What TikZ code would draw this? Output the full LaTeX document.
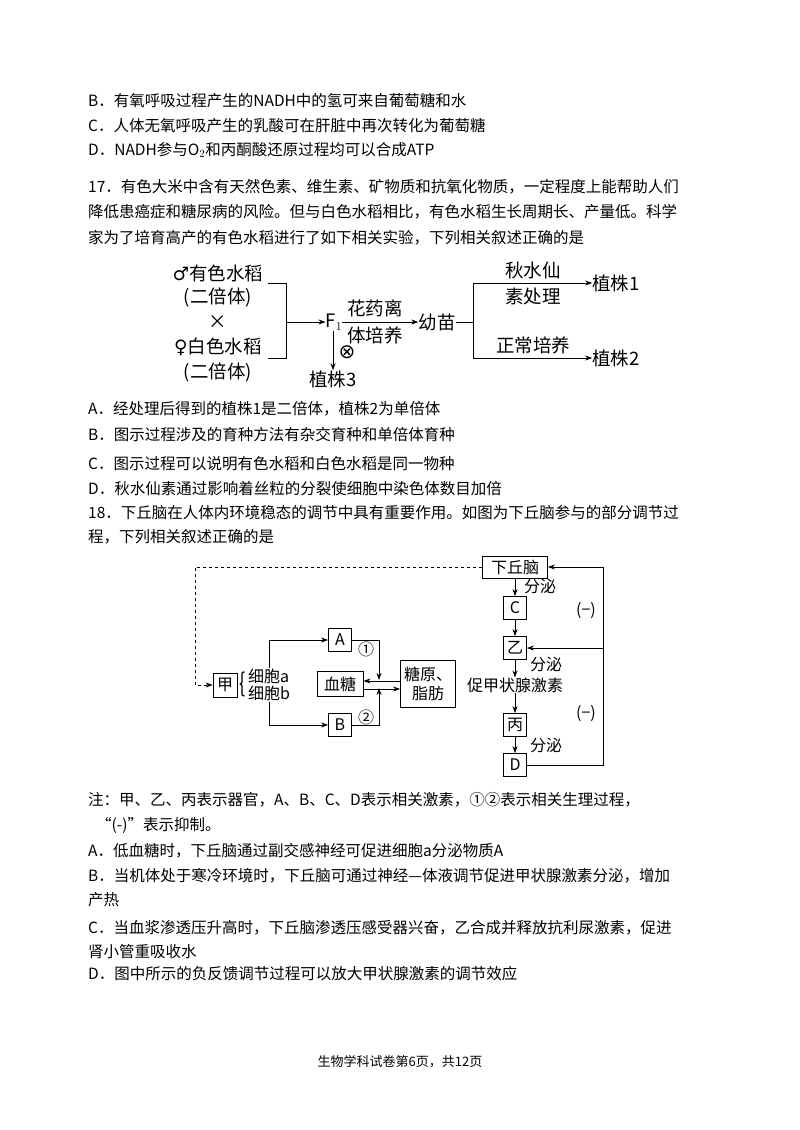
\documentclass[tikz,border=0pt]{standalone}
\usepackage{fontspec}
\setmainfont{Noto Sans CJK SC}
\newfontfamily\dejavu{DejaVu Sans}
\usetikzlibrary{arrows.meta}
\begin{document}
\begin{tikzpicture}[x=1pt,y=-1pt,
  txt/.style={anchor=west,inner sep=0,font=\fontsize{15.5}{16}\selectfont},
  lbl/.style={inner sep=0,font=\fontsize{18.5}{19}\selectfont},
  sl/.style={inner sep=0,font=\fontsize{16}{17}\selectfont},
  bx/.style={draw,line width=0.8pt,inner sep=0,font=\fontsize{16}{17}\selectfont},
  ar/.style={-{Stealth[length=7pt,width=5pt]},line width=0.8pt},
  ln/.style={line width=0.8pt}]
\useasboundingbox[fill=white] (0,0) rectangle (800,1130);
% text lines
\node[txt] (t1) at (88,101) {B．有氧呼吸过程产生的NADH中的氢可来自葡萄糖和水};
\node[txt] (t2) at (88,126) {C．人体无氧呼吸产生的乳酸可在肝脏中再次转化为葡萄糖};
\node[txt] (t3) at (88,150) {D．NADH参与O$_2$和丙酮酸还原过程均可以合成ATP};
\node[txt] (t4) at (88,187) {17．有色大米中含有天然色素、维生素、矿物质和抗氧化物质，一定程度上能帮助人们};
\node[txt] (t5) at (88,212) {降低患癌症和糖尿病的风险。但与白色水稻相比，有色水稻生长周期长、产量低。科学};
\node[txt] (t6) at (88,238) {家为了培育高产的有色水稻进行了如下相关实验，下列相关叙述正确的是};
\node[txt] (t7) at (88,409) {A．经处理后得到的植株1是二倍体，植株2为单倍体};
\node[txt] (t8) at (88,435) {B．图示过程涉及的育种方法有杂交育种和单倍体育种};
\node[txt] (t9) at (88,464) {C．图示过程可以说明有色水稻和白色水稻是同一物种};
\node[txt] (t10) at (88,489) {D．秋水仙素通过影响着丝粒的分裂使细胞中染色体数目加倍};
\node[txt] (t11) at (88,513) {18．下丘脑在人体内环境稳态的调节中具有重要作用。如图为下丘脑参与的部分调节过};
\node[txt] (t12) at (88,537) {程，下列相关叙述正确的是};
\node[txt] (t13) at (88,800) {注：甲、乙、丙表示器官，A、B、C、D表示相关激素，①②表示相关生理过程，};
\node[txt] (t14) at (96,825) {“(-)”表示抑制。};
\node[txt] (t15) at (88,851) {A．低血糖时，下丘脑通过副交感神经可促进细胞a分泌物质A};
\node[txt] (t16) at (88,876) {B．当机体处于寒冷环境时，下丘脑可通过神经—体液调节促进甲状腺激素分泌，增加};
\node[txt] (t17) at (88,900) {产热};
\node[txt] (t18) at (88,928) {C．当血浆渗透压升高时，下丘脑渗透压感受器兴奋，乙合成并释放抗利尿激素，促进};
\node[txt] (t19) at (88,952) {肾小管重吸收水};
\node[txt] (t20) at (88,974) {D．图中所示的负反馈调节过程可以放大甲状腺激素的调节效应};
\node[inner sep=0,font=\fontsize{13}{14}\selectfont] (ft) at (400,1062) {生物学科试卷第6页，共12页};
% diagram 1
\node[lbl] (p1) at (218,273) {{\dejavu ♂}有色水稻};
\node[lbl] (p2) at (218,297) {(二倍体)};
\node[lbl] (px) at (218,322) {×};
\node[lbl] (p3) at (218,347) {{\dejavu ♀}白色水稻};
\node[lbl] (p4) at (218,372) {(二倍体)};
\node[lbl] (f1) at (334,322) {F$_1$};
\node[lbl] (ym) at (437,322) {幼苗};
\node[lbl] (z1) at (616,283) {植株1};
\node[lbl] (z2) at (616,358) {植株2};
\node[lbl] (z3) at (333,379) {植株3};
\node[lbl] at (375,308) {花药离};
\node[lbl] at (375,335) {体培养};
\node[lbl] at (533,270) {秋水仙};
\node[lbl] at (533,296) {素处理};
\node[lbl] at (533,345) {正常培养};
\node[inner sep=0,font=\fontsize{20}{20}\selectfont] (ot) at (347,352) {\dejavu ⊗};
\coordinate (bt) at (286,283); \coordinate (bb) at (286,358);
\draw[ln] (268,283) -- (bt) -- (bb) -- (268,358);
\draw[ar] (286,322) -- (f1.west);
\draw[ar] (f1.east) -- (ym.west);
\draw[ln] (ym.east) -- (473,322);
\draw[ln] (473,283) -- (473,358);
\draw[ar] (473,283) -- (z1.west);
\draw[ar] (473,358) -- (z2.west);
\draw[ar] (333,331) -- (z3.north);
% diagram 2
\node[bx,minimum width=65pt,minimum height=22pt] (xq) at (515,567) {下丘脑};
\node[bx,minimum size=23pt] (C) at (515,608) {C};
\node[bx,minimum size=23pt] (Y) at (515,648) {乙};
\node[sl] (cj) at (515,685) {促甲状腺激素};
\node[bx,minimum size=23pt] (B3) at (515,725) {丙};
\node[bx,minimum size=23pt] (D) at (515,765) {D};
\node[sl] at (540,586) {分泌};
\node[sl] at (546,664) {分泌};
\node[sl] at (546,745) {分泌};
\node[sl] at (586,611) {(−)};
\node[sl] at (586,714) {(−)};
\draw[ar] (xq) -- (C);
\draw[ar] (C) -- (Y);
\draw[ar] (Y) -- (cj);
\draw[ar] (cj) -- (B3);
\draw[ar] (B3) -- (D);
\draw[ln] (D.east) -- (603,765) -- (603,567);
\draw[ar] (603,567) -- (xq.east);
\draw[ar] (603,648) -- (Y.east);
\node[bx,minimum size=24pt] (jia) at (225,685) {甲};
\draw[ar,dashed] (xq.west) -- (195,567) -- (195,685) -- (jia.west);
\node[inner sep=0,xscale=0.7,font=\fontsize{26}{26}\selectfont] (br) at (243,684) {\{};
\node[sl,anchor=west] (ca) at (248,676) {细胞a};
\node[sl,anchor=west] (cb) at (248,693) {细胞b};
\node[bx,minimum size=23pt] (A) at (340,640) {A};
\node[bx,minimum size=23pt] (Bb) at (340,725) {B};
\node[bx,minimum width=46pt,minimum height=25pt] (xt) at (340,684) {血糖};
\node[bx,minimum width=55pt,minimum height=47pt,align=center,font=\fontsize{16}{19}\selectfont] (ty) at (428,684) {糖原、\\脂肪};
\node[sl] at (366,649) {①};
\node[sl] at (366,717) {②};
\draw[ar] (269,668) -- (269,640) -- (A.west);
\draw[ar] (269,702) -- (269,725) -- (Bb.west);
\draw[ar] (A.east) -- (379,640) -- (379,680);
\draw[ar] (Bb.east) -- (379,725) -- (379,688);
\draw[ar] (ty.west |- 0,681) -- (xt.east |- 0,681);
\draw[ar] (xt.east |- 0,689) -- (ty.west |- 0,689);
\end{tikzpicture}
\end{document}
